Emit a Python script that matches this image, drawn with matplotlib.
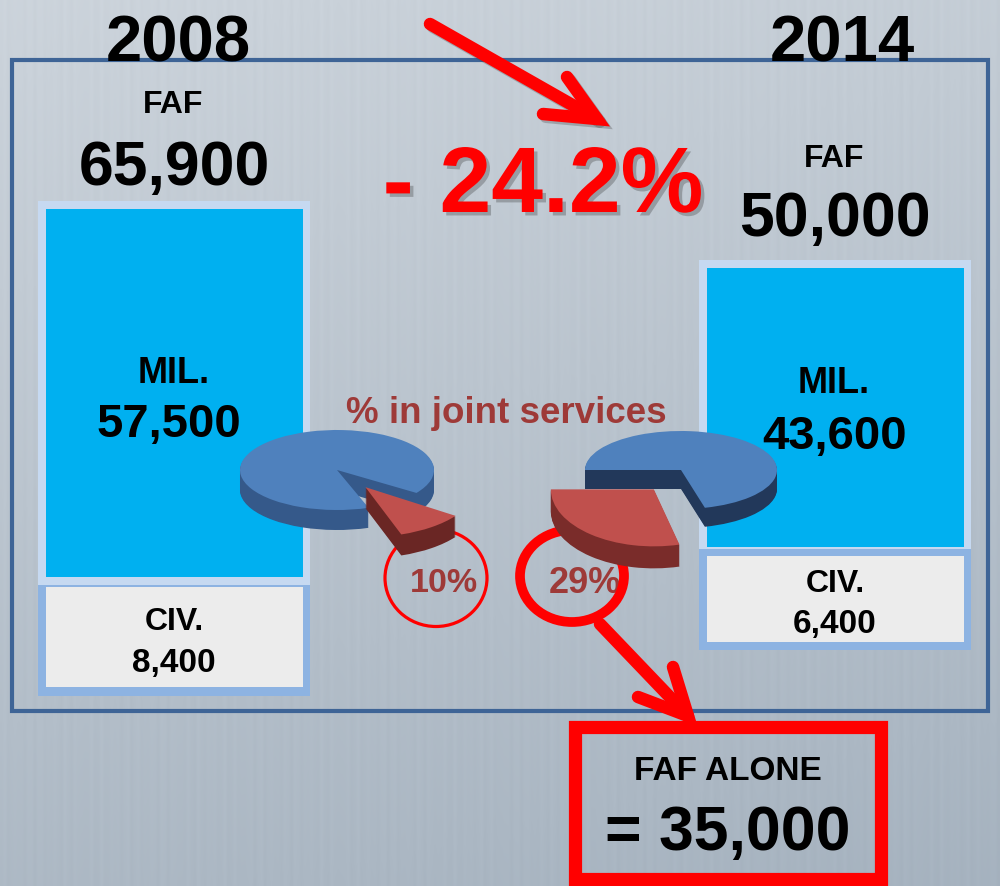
import numpy as np
import matplotlib.pyplot as plt
from matplotlib.patches import Rectangle, Ellipse
import matplotlib.patheffects as pe

# data
years = ["2008", "2014"]
faf_total = [65900, 50000]
mil = [57500, 43600]
civ = [8400, 6400]
joint_pct = [10, 29]
change_pct = -24.2
faf_alone = 35000

plt.rcParams['font.family'] = ['Liberation Sans', 'DejaVu Sans']
plt.rcParams['font.weight'] = 'bold'

W, H = 1000, 887
fig = plt.figure(figsize=(10, 8.87), dpi=100)
ax = fig.add_axes([0, 0, 1, 1])

# brushed-metal-ish background
yy = np.linspace(0, 1, 300)[:, None, None]
xx = np.linspace(0, 1, 300)[None, :, None]
top_c = np.array([0.80, 0.83, 0.86])
bot_c = np.array([0.65, 0.70, 0.75])
t = np.clip(0.8 * yy + 0.2 * xx, 0, 1)
streak = 0.008 * np.sin(xx * 611.0) * np.cos(xx * 97.0)
img = np.clip(top_c * (1 - t) + bot_c * t + streak, 0, 1)
ax.imshow(img, extent=[0, W, H, 0], aspect='auto', zorder=0)
ax.set_xlim(0, W)
ax.set_ylim(H, 0)
ax.axis('off')

# outer frame
ax.add_patch(Rectangle((12, 61), 976, 651, fill=False, ec='#3e6496', lw=3, zorder=1))

# MIL bars, height scaled from the values
px_per = 368 / mil[0]
bar_x = [174, 835]
bar_base = [578, 548]
bar_w = 257
out_w = 272
civ_top = [586, 550]       # top of the civ box border
civ_fill = [(588, 688), (557, 643)]
civ_bot = [697, 651]
mil_h = [v * px_per for v in mil]
ax.bar(bar_x, [-(h + 8 + (ct - b)) for h, ct, b in zip(mil_h, civ_top, bar_base)],
       width=out_w, bottom=civ_top, color='#c6d9f1', zorder=2)
ax.bar(bar_x, [-h for h in mil_h], width=bar_w, bottom=bar_base, color='#00b0f0', zorder=3)

# CIV boxes
for x, ct, (f0, f1), cb in zip(bar_x, civ_top, civ_fill, civ_bot):
    ax.add_patch(Rectangle((x - out_w / 2, ct), out_w, cb - ct, fc='#8db3e2', ec='none', zorder=2))
    ax.add_patch(Rectangle((x - bar_w / 2, f0), bar_w, f1 - f0, fc='#ececec', ec='none', zorder=3))


# texts
def txt(x, y, s, size, color='black', **kw):
    ax.text(x, y, s, fontsize=size, color=color, ha='center', va='baseline',
            fontweight='bold', zorder=10, **kw)


txt(178, 62, years[0], 47)
txt(842, 62, years[1], 47)
txt(173, 113, "FAF", 23)
txt(174, 185, f"{faf_total[0]:,}", 45)
txt(834, 167, "FAF", 23)
txt(835, 236, f"{faf_total[1]:,}", 45)
txt(174, 383, "MIL.", 26)
txt(169, 437, f"{mil[0]:,}", 34)
txt(834, 393, "MIL.", 26)
txt(835, 449, f"{mil[1]:,}", 34)
txt(174, 630, "CIV.", 23)
txt(174, 672, f"{civ[0]:,}", 24)
txt(835, 592, "CIV.", 23)
txt(835, 633, f"{civ[1]:,}", 24)

sign = "-" if change_pct < 0 else "+"
txt(543, 213, f"{sign} {abs(change_pct):.1f}%", 67, color='#ff0000',
    path_effects=[pe.SimplePatchShadow(offset=(2.5, -2.5), shadow_rgbFace='#333333', alpha=0.3),
                  pe.Normal()])

joint_col = '#9e3a38'
txt(506, 423, "% in joint services", 26.5, color=joint_col)
txt(444, 592, f"{joint_pct[0]}%", 24.5, color=joint_col)
txt(585, 593, f"{joint_pct[1]}%", 26, color=joint_col)

txt(728, 780, "FAF ALONE", 24)
txt(728, 850, f"= {faf_alone:,}", 45)

# red annotations
shadow = [pe.SimpleLineShadow(offset=(2, -2), shadow_color='#444444', alpha=0.3), pe.Normal()]
red = '#ff0000'
ax.plot([430, 597], [25, 120], color=red, lw=9, solid_capstyle='round', zorder=11,
        path_effects=shadow)
ax.plot([567, 597, 543], [78, 120, 115], color=red, lw=9, solid_capstyle='round',
        solid_joinstyle='miter', zorder=11, path_effects=shadow)
ax.plot([600, 688], [625, 717], color=red, lw=9, solid_capstyle='round', zorder=11)
ax.plot([673, 688, 638], [668, 717, 698], color=red, lw=9, solid_capstyle='round',
        solid_joinstyle='miter', zorder=11)

ax.add_patch(Ellipse((436, 579), 102, 97, fill=False, ec=red, lw=2.3, zorder=11))
ax.add_patch(Ellipse((572, 577), 104, 92, fill=False, ec=red, lw=7, zorder=11))
ax.add_patch(Rectangle((575, 728), 306, 152, fill=False, ec=red, lw=9.5, zorder=11))


# pseudo 3D pies: stacked pie layers squashed into ellipses,
# each wedge gets its own squash (a, b) and thickness to fake perspective
def pie3d(cx, cy, vals, start, explode, wedges):
    for i, (a, b, depth, top, side) in wedges:
        pax = fig.add_axes([(cx - 160) / W, 1 - (cy + 120) / H, 320 / W, 240 / H])
        for k in range(int(depth), -1, -1):
            cols = ['none'] * len(vals)
            cols[i] = side if k > 0 else top
            pax.pie(vals, startangle=start, explode=explode, colors=cols,
                    center=(0, -k / b), wedgeprops=dict(linewidth=0))
        pax.set_aspect('auto')
        pax.set_xlim(-160 / a, 160 / a)
        pax.set_ylim(-120 / b, 120 / b)
        pax.axis('off')


blue_top, red_top = '#4f81bd', '#c0504d'
pie3d(337, 471, [joint_pct[0], 100 - joint_pct[0]], -71, [0.43, 0],
      [(1, (97, 40, 20, blue_top, '#35598a')),
       (0, (110, 50, 21, red_top, '#6a2624'))])
pie3d(681, 471, [joint_pct[1], 100 - joint_pct[1]], 180, [0.43, 0],
      [(1, (96, 39, 19, blue_top, '#22385a')),
       (0, (103, 57, 22, red_top, '#7a2c2a'))])

fig.savefig('out.png', dpi=100)
